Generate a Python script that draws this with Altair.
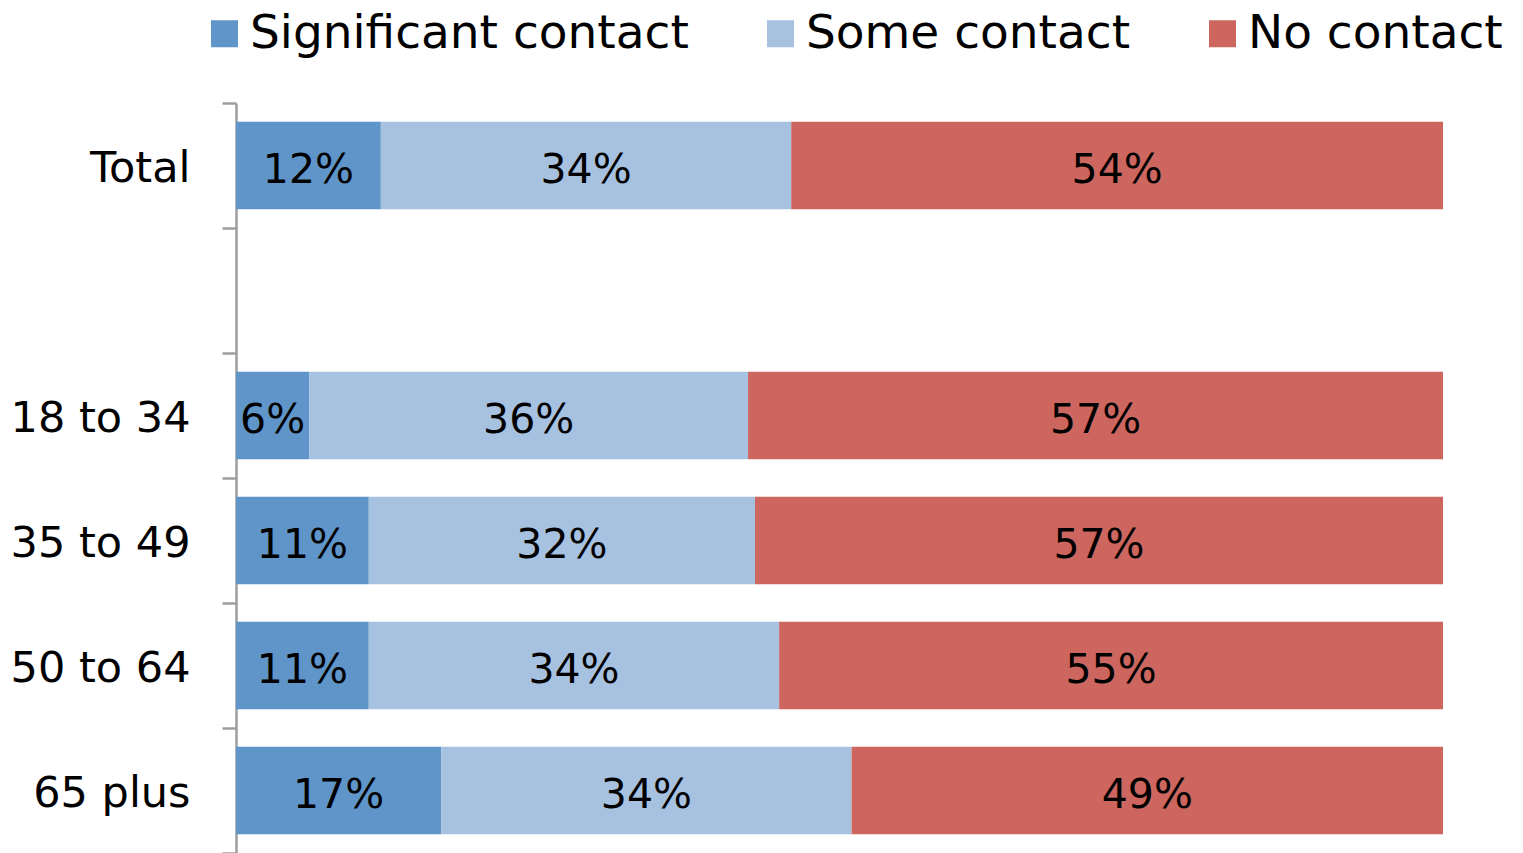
import altair as alt
import pandas as pd

rows = ["Total", " ", "18 to 34", "35 to 49", "50 to 64", "65 plus"]
groups = ["Total", "18 to 34", "35 to 49", "50 to 64", "65 plus"]
series = ["Significant contact", "Some contact", "No contact"]
significant = [12, 6, 11, 11, 17]
some = [34, 36, 32, 34, 34]
no_contact = [54, 57, 57, 55, 49]
colors = ["#5F95C8", "#A7C1E0", "#CC665F"]

recs = []
for i, g in enumerate(groups):
    for k, (s, vals) in enumerate(zip(series, [significant, some, no_contact])):
        recs.append({"cat": g, "series": s, "order": k, "value": vals[i],
                     "label": f"{vals[i]}%"})
df = pd.DataFrame(recs)

FONT = "DejaVu Sans"

base = alt.Chart(df).transform_stack(
    stack="value", as_=["x0", "x1"], groupby=["cat"], offset="normalize",
    sort=[alt.SortField("order", order="ascending")]
).transform_calculate(mid="(datum.x0 + datum.x1) / 2")

y = alt.Y("cat:N", scale=alt.Scale(domain=rows, paddingInner=0, paddingOuter=0),
          axis=alt.Axis(title=None, tickBand="extent", domainColor="#9E9E9E",
                        domainWidth=2.5, tickColor="#9E9E9E", tickWidth=2.5, tickSize=14,
                        labelFont=FONT, labelFontSize=43, labelColor="#000000",
                        labelPadding=32, labelLimit=400, labelOffset=3))

bars = base.mark_bar(height={"band": 0.7}).encode(
    x=alt.X("x0:Q", axis=None, scale=alt.Scale(domain=[0, 1], nice=False, zero=True)),
    x2="x1:Q",
    y=y,
    color=alt.Color("series:N", scale=alt.Scale(domain=series, range=colors),
                    legend=alt.Legend(title=None, orient="none", legendX=-35, legendY=-93,
                                      direction="horizontal", symbolType="square",
                                      symbolSize=729, symbolStrokeWidth=0, symbolOpacity=1,
                                      labelFont=FONT, labelFontSize=47, labelColor="#000000",
                                      labelOffset=2, columnPadding=68, padding=0,
                                      labelLimit=600)),
    order=alt.Order("order:Q"),
)

text = base.mark_text(font=FONT, fontSize=41, color="#000000", baseline="middle",
                      align="center", dy=5).encode(
    x=alt.X("mid:Q", scale=alt.Scale(domain=[0, 1], nice=False, zero=True)),
    y=alt.Y("cat:N", scale=alt.Scale(domain=rows)),
    text="label:N",
)

chart = alt.layer(bars, text).properties(
    width=1207, height=750,
    autosize=alt.AutoSizeParams(type="none"),
    padding={"left": 228, "top": 95, "right": 72, "bottom": 0},
).configure_view(stroke=None).configure_axis(grid=False)

chart.save("out.html", embed_options={"renderer": "svg", "actions": False})
